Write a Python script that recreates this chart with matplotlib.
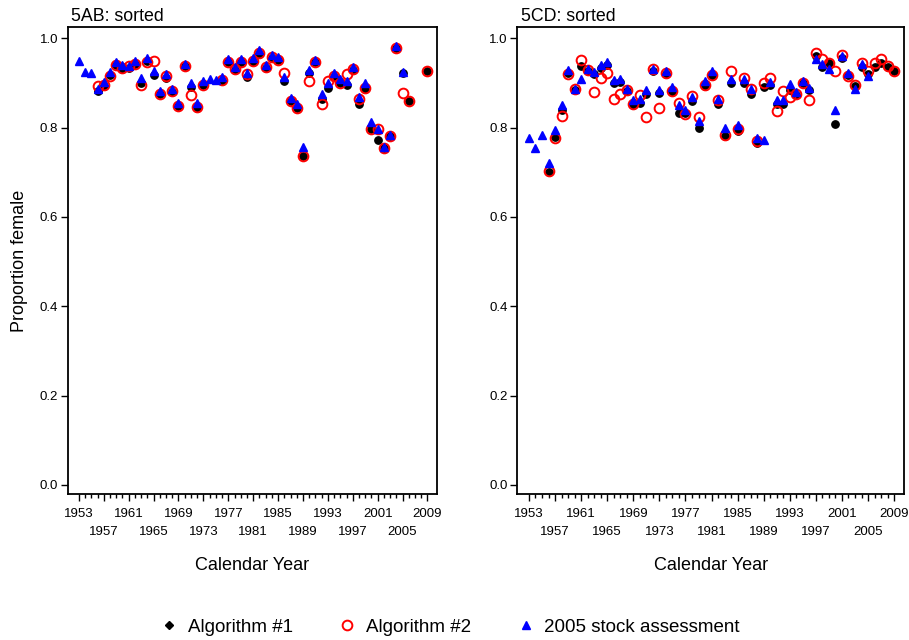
import numpy as np
import matplotlib
matplotlib.use("Agg")
import matplotlib.pyplot as plt
from matplotlib.lines import Line2D
from matplotlib.transforms import ScaledTranslation

plt.rcParams['font.family'] = ['Liberation Sans', 'DejaVu Sans']

nan = np.nan
years = list(range(1953, 2010))

# 5AB panel
ab_alg1 = [nan, nan, nan, 0.881, 0.893, 0.917, 0.940, 0.932, 0.934, 0.943,
           0.900, 0.949, 0.919, 0.876, 0.911, 0.879, 0.848, 0.937, 0.891, 0.845,
           0.895, nan, nan, 0.905, 0.946, 0.930, 0.946, 0.913, 0.947, 0.966,
           0.934, 0.957, 0.951, 0.904, 0.859, 0.843, 0.737, 0.923, 0.946, 0.865,
           0.889, 0.913, 0.899, 0.896, 0.930, 0.854, 0.887, 0.796, 0.773, 0.755,
           0.781, 0.979, 0.922, 0.859, nan, nan, 0.927]
ab_alg2 = [nan, nan, nan, 0.893, 0.896, 0.916, 0.941, 0.934, 0.937, 0.943,
           0.896, 0.947, 0.949, 0.876, 0.915, 0.881, 0.849, 0.938, 0.874, 0.846,
           0.895, nan, nan, 0.906, 0.947, 0.931, 0.947, 0.920, 0.949, 0.967,
           0.936, 0.958, 0.952, 0.922, 0.859, 0.843, 0.737, 0.904, 0.947, 0.854,
           0.904, 0.915, 0.899, 0.921, 0.932, 0.865, 0.889, 0.796, 0.796, 0.755,
           0.781, 0.979, 0.878, 0.859, nan, nan, 0.928]
ab_sa2005 = [0.950, 0.924, 0.923, 0.887, 0.902, 0.925, 0.947, 0.941, 0.937, 0.949,
             0.912, 0.957, 0.926, 0.881, 0.921, 0.887, 0.855, 0.943, 0.899, 0.855,
             0.905, 0.908, 0.907, 0.913, 0.953, 0.936, 0.954, 0.922, 0.955, 0.975,
             0.941, 0.963, 0.958, 0.913, 0.867, 0.854, 0.757, 0.930, 0.952, 0.876,
             0.899, 0.923, 0.910, 0.904, 0.936, 0.869, 0.900, 0.813, 0.798, 0.757,
             0.783, 0.982, 0.925, nan, nan, nan, nan]

# 5CD panel
cd_alg1 = [nan, nan, nan, 0.700, 0.778, 0.839, 0.922, 0.885, 0.937, 0.926,
           0.920, 0.933, 0.941, 0.900, 0.903, 0.881, 0.851, 0.856, 0.875, 0.926,
           0.877, 0.921, 0.880, 0.833, 0.832, 0.859, 0.799, 0.893, 0.915, 0.854,
           0.781, 0.899, 0.793, 0.900, 0.876, 0.766, 0.890, 0.895, 0.854, 0.854,
           0.885, 0.873, 0.899, 0.885, 0.960, 0.936, 0.945, 0.809, 0.955, 0.917,
           0.893, 0.936, 0.920, 0.936, 0.945, 0.936, 0.927]
cd_alg2 = [nan, nan, nan, 0.703, 0.776, 0.826, 0.921, 0.887, 0.952, 0.930,
           0.880, 0.911, 0.922, 0.865, 0.876, 0.884, 0.852, 0.873, 0.824, 0.932,
           0.843, 0.923, 0.881, 0.855, 0.830, 0.872, 0.823, 0.895, 0.917, 0.861,
           0.783, 0.928, 0.798, 0.912, 0.887, 0.770, 0.901, 0.911, 0.837, 0.882,
           0.869, 0.876, 0.901, 0.863, 0.967, 0.954, 0.945, 0.927, 0.962, 0.915,
           0.896, 0.945, 0.926, 0.945, 0.954, 0.937, 0.927]
cd_sa2005 = [0.776, 0.755, 0.783, 0.721, 0.794, 0.850, 0.929, 0.886, 0.908, 0.931,
             0.924, 0.940, 0.947, 0.906, 0.910, 0.887, 0.861, 0.864, 0.885, 0.932,
             0.885, 0.927, 0.890, 0.850, 0.840, 0.869, 0.814, 0.904, 0.926, 0.865,
             0.799, 0.908, 0.807, 0.910, 0.887, 0.776, 0.773, 0.902, 0.861, 0.861,
             0.897, 0.880, 0.905, 0.889, 0.954, 0.942, 0.932, 0.840, 0.960, 0.922,
             0.886, 0.943, 0.916, nan, nan, nan, nan]

titles = ["5AB: sorted", "5CD: sorted"]
panels = [(ab_alg1, ab_alg2, ab_sa2005), (cd_alg1, cd_alg2, cd_sa2005)]
tick_years = list(range(1953, 2010, 4))

fig = plt.figure(figsize=(9.09, 6.40), dpi=100)
ax1 = fig.add_axes([0.0745, 0.2277, 0.406, 0.7305])
ax2 = fig.add_axes([0.569, 0.2277, 0.4254, 0.7305])

for i, ax in enumerate([ax1, ax2]):
    alg1, alg2, sa = panels[i]
    ax.plot(years, alg1, linestyle='none', marker='o', ms=5.3, color='black', zorder=3)
    ax.plot(years, alg2, linestyle='none', marker='o', ms=7, mfc='none', mec='red', mew=1.4, zorder=4)
    ax.plot(years, sa, linestyle='none', marker='^', ms=6, color='blue', zorder=5)

    ax.set_xlim(1951.2, 2010.5)
    ax.set_ylim(-0.021, 1.026)
    ax.set_yticks([0.0, 0.2, 0.4, 0.6, 0.8, 1.0])
    ax.set_yticklabels(['0.0', '0.2', '0.4', '0.6', '0.8', '1.0'])
    ax.set_xticks(tick_years)
    ax.set_xticklabels([str(y) for y in tick_years])
    ax.set_xticks(years, minor=True)
    ax.tick_params(axis='both', labelsize=9.5, length=5, width=1, pad=2)
    ax.tick_params(axis='x', which='minor', length=3, width=1)
    ax.tick_params(axis='x', pad=5)
    # every second year label goes on a lower row
    for k, lbl in enumerate(ax.get_xticklabels()):
        if k % 2 == 1:
            lbl.set_transform(lbl.get_transform() + ScaledTranslation(0, -12.5 / 72, fig.dpi_scale_trans))
    for s in ax.spines.values():
        s.set_linewidth(1.3)
    ax.set_title(titles[i], loc='left', fontsize=12.8, pad=4, x=0.01)
    ax.set_xlabel('Calendar Year', fontsize=13, labelpad=14)

ax1.set_ylabel('Proportion female', fontsize=13, labelpad=8)

handles = [
    Line2D([], [], linestyle='none', marker='D', ms=4.5, color='black'),
    Line2D([], [], linestyle='none', marker='o', ms=7, mfc='none', mec='red', mew=1.4),
    Line2D([], [], linestyle='none', marker='^', ms=6, color='blue'),
]
fig.legend(handles, ['Algorithm #1', 'Algorithm #2', '2005 stock assessment'],
           loc='center', bbox_to_anchor=(0.495, 0.02), ncol=3, frameon=False,
           fontsize=13.5, columnspacing=2.4, handlelength=1.0, handletextpad=0.5)

fig.savefig('out.png', dpi=100)
